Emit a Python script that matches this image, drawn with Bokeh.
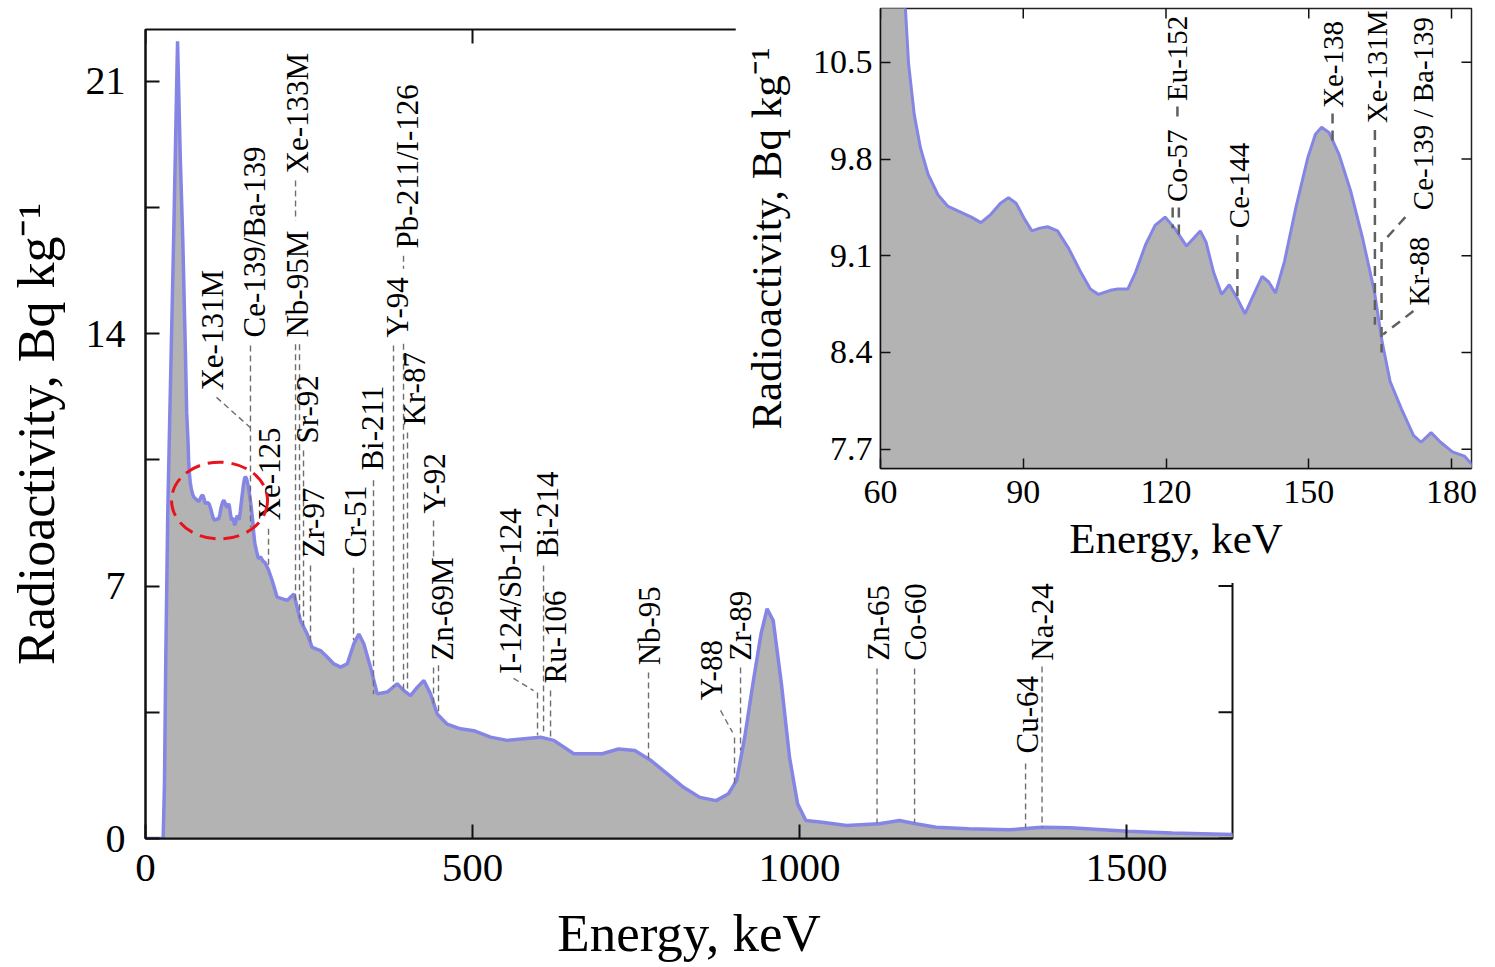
from math import pi
from bokeh.plotting import figure
from bokeh.models import Range1d, FixedTicker, PrintfTickFormatter, ColumnDataSource
from bokeh.layouts import column
from bokeh.embed import file_html
from bokeh.resources import INLINE
from bokeh.core.properties import value

FONT = "Liberation Serif"

# ---------------- data ----------------
energy_kev = [
    0, 27, 29, 31, 34, 37, 43, 49, 53, 57, 61, 63,
    65.1, 65.9, 67.1, 68.4, 70.0, 72.1, 74.1, 76.6, 79.1, 81.1, 83.2, 85.2, 86.9, 88.5,
    90.2, 91.8, 93.5, 95.1, 97.2, 99.6, 102.1, 104.1, 105.8, 108.3, 109.9, 112.0, 113.6,
    115.7, 117.7, 119.8, 121.8, 124.3, 125.9, 127.2, 128.4, 130.0, 131.7, 133.3, 135.0,
    136.6, 138.3, 140.2, 141.6, 143.0, 144.9, 147.3, 149.8, 151.4, 152.7, 154.3, 156.4,
    158.8, 161.3, 163.8, 165.4, 167.1, 169.5, 172.0, 173.6, 175.7, 177.7, 180.2, 182.7, 184.3,
    188.0, 193.7, 201.3, 216.6, 226.8, 231.9, 237.0, 247.2, 254.8, 267.6, 277.8, 288.0,
    298.2, 308.4, 318.5, 326.2, 333.8, 344.0, 354.3, 369.5, 384.8, 395.0, 405.2, 415.4,
    425.6, 435.8, 446.0, 461.3, 481.6, 502.0, 527.5, 553.0, 604.0, 624.3, 654.9, 680.4,
    698.3, 723.2, 748.1, 773.0, 797.8, 822.7, 847.6, 872.6, 891.4, 903.8, 916.2, 928.7,
    941.1, 950.4, 959.8, 972.3, 984.7, 997.1, 1009.6, 1034.6, 1071.9, 1121.7, 1152.8,
    1177.6, 1208.8, 1258.5, 1320.9, 1370.5, 1414.2, 1501.5, 1569.8, 1663,
]
activity_bq_kg = [
    0, 0, 1.5, 5.0, 9.0, 11.6, 16.6, 22.1, 19.0, 16.6, 13.5, 11.8,
    10.97, 10.49, 10.12, 9.88, 9.69, 9.54, 9.46, 9.42, 9.38, 9.34, 9.40, 9.48, 9.52, 9.48,
    9.37, 9.28, 9.30, 9.31, 9.28, 9.15, 8.98, 8.86, 8.82, 8.85, 8.86, 8.86, 8.98,
    9.18, 9.32, 9.38, 9.30, 9.17, 9.23, 9.28, 9.20, 8.98, 8.82, 8.89, 8.79,
    8.68, 8.81, 8.95, 8.91, 8.83, 9.06, 9.45, 9.81, 9.98, 10.03, 9.99, 9.83,
    9.57, 9.23, 8.84, 8.48, 8.19, 7.99, 7.80, 7.75, 7.82, 7.75, 7.68, 7.65, 7.59,
    7.45, 7.15, 6.69, 6.60, 6.78, 6.41, 6.04, 5.67, 5.30, 5.21, 5.03, 4.84,
    4.75, 4.84, 5.40, 5.67, 5.40, 4.75, 4.01, 4.06, 4.29, 4.10, 3.96, 4.19,
    4.38, 4.01, 3.45, 3.17, 3.04, 2.99, 2.81, 2.72, 2.81, 2.72, 2.35, 2.35,
    2.35, 2.48, 2.44, 2.16, 1.79, 1.42, 1.14, 1.05, 1.24, 1.61, 2.81, 4.29,
    5.67, 6.37, 6.04, 4.29, 2.25, 0.96, 0.50, 0.45, 0.36, 0.41, 0.50,
    0.41, 0.31, 0.27, 0.24, 0.31, 0.30, 0.20, 0.15, 0.11,
]
assert len(energy_kev) == len(activity_bq_kg)

main_nuclides = ["Xe-131M", "Ce-139/Ba-139", "Xe-125", "Xe-133M", "Nb-95M", "Sr-92", "Zr-97",
                 "Cr-51", "Bi-211", "Y-94", "Pb-211/I-126", "Kr-87", "Y-92", "Zn-69M",
                 "I-124/Sb-124", "Bi-214", "Ru-106", "Nb-95", "Y-88", "Zr-89", "Zn-65",
                 "Co-60", "Cu-64", "Na-24"]
inset_nuclides = ["Co-57", "Eu-152", "Ce-144", "Xe-138", "Xe-131M", "Ce-139 / Ba-139", "Kr-88"]

x_ticks_main = [0, 500, 1000, 1500]
y_ticks_main = [0, 7, 14, 21]
y_minor_main = [3.5, 10.5, 17.5]
x_ticks_inset = [60, 90, 120, 150, 180]
y_ticks_inset = [7.7, 8.4, 9.1, 9.8, 10.5]

MAIN_X = (0, 1662)
MAIN_Y = (0, 22.43)
INSET_X = (60, 184.2)
INSET_Y = (7.56, 10.89)

# ---------------- label placement (layout only) ----------------
main_layout = {
    "Xe-131M": ((102.4, 12.42), [(108.6, 12.23, 160.5, 11.39)]),
    "Ce-139/Ba-139": ((166.0, 13.89), [(160.5, 13.67, 160.5, 8.62)]),
    "Xe-125": ((189.6, 8.82), [(188.1, 8.59, 188.1, 7.54)]),
    "Xe-133M": ((232.4, 18.44), [(229.4, 18.24, 229.4, 17.13), (229.4, 13.7, 229.4, 6.5)]),
    "Nb-95M": ((232.4, 13.89), [(235.5, 13.7, 235.5, 6.1)]),
    "Sr-92": ((247.7, 10.95), [(241.6, 10.76, 241.6, 5.9)]),
    "Zr-97": ((256.9, 7.79), [(252.3, 7.57, 252.3, 5.4)]),
    "Cr-51": ((321.1, 7.79), [(318.1, 7.51, 318.1, 5.5)]),
    "Bi-211": ((347.1, 10.20), [(348.6, 9.93, 348.6, 4.0)]),
    "Y-94": ((385.3, 13.89), [(379.2, 13.67, 379.2, 4.2)]),
    "Pb-211/I-126": ((400.6, 16.36), [(394.5, 16.16, 394.5, 15.8), (394.5, 13.72, 394.5, 4.1)]),
    "Kr-87": ((411.3, 11.45), [(400.6, 11.26, 400.6, 4.05)]),
    "Y-92": ((441.9, 9.01), [(440.4, 8.82, 440.4, 7.76), (448.0, 4.8, 448.0, 3.5)]),
    "Zn-69M": ((454.1, 4.93), [(440.4, 4.74, 440.4, 3.69)]),
    "I-124/Sb-124": ((558.1, 4.57), [(562.7, 4.44, 593.3, 4.10), (599.4, 4.05, 599.4, 2.86)]),
    "Bi-214": ((614.7, 7.79), [(608.6, 7.57, 608.6, 2.86)]),
    "Ru-106": ((626.9, 4.30), [(619.3, 4.10, 619.3, 2.80)]),
    "Nb-95": ((770.7, 4.80), [(769.1, 4.60, 769.1, 2.16)]),
    "Y-88": ((865.5, 3.83), [(879.2, 3.55, 897.6, 2.94), (900.6, 2.80, 900.6, 1.52)]),
    "Zr-89": ((909.8, 4.93), [(909.8, 4.74, 909.8, 2.44)]),
    "Zn-65": ((1120.8, 4.93), [(1118.5, 4.71, 1118.5, 0.42)]),
    "Co-60": ((1177.4, 4.93), [(1175.9, 4.71, 1175.9, 0.44)]),
    "Cu-64": ((1348.7, 2.36), [(1345.6, 2.08, 1345.6, 0.30)]),
    "Na-24": ((1370.8, 4.93), [(1370.8, 4.77, 1370.8, 0.30)]),
}
inset_layout = {
    "Co-57": ((122.4, 9.49), [(121.4, 9.45, 121.4, 9.30)]),
    "Eu-152": ((122.4, 10.22), [(122.4, 10.18, 122.4, 10.09), (122.7, 9.45, 122.7, 9.25)]),
    "Ce-144": ((135.3, 9.30), [(135.0, 9.25, 135.0, 8.78)]),
    "Xe-138": ((155.1, 10.17), [(155.0, 10.13, 155.0, 9.91)]),
    "Xe-131M": ((164.3, 10.06), [(163.9, 10.01, 163.9, 8.60)]),
    "Ce-139 / Ba-139": ((174.0, 9.43), [(170.3, 9.38, 165.6, 9.20), (165.3, 9.20, 165.3, 8.40)]),
    "Kr-88": ((173.2, 8.74), [(172.0, 8.70, 165.6, 8.53)]),
}


def build(names, layout):
    tx, ty, x0, y0, x1, y1 = [], [], [], [], [], []
    for n in names:
        (ax, ay), segs = layout[n]
        tx.append(ax)
        ty.append(ay)
        for s in segs:
            x0.append(s[0]); y0.append(s[1]); x1.append(s[2]); y1.append(s[3])
    return (ColumnDataSource(dict(x=tx, y=ty, t=list(names))),
            ColumnDataSource(dict(x0=x0, y0=y0, x1=x1, y1=y1)))


def style_axis(ax, font_px, tick_len, lw, standoff, label_px, label_standoff):
    ax.axis_line_color = "#111111"
    ax.axis_line_width = lw
    ax.major_tick_line_color = "#111111"
    ax.major_tick_line_width = lw
    ax.minor_tick_line_color = "#111111"
    ax.minor_tick_line_width = lw
    ax.major_tick_in = tick_len
    ax.major_tick_out = 0
    ax.minor_tick_in = tick_len
    ax.minor_tick_out = 0
    ax.major_label_text_font = FONT
    ax.major_label_text_color = "black"
    ax.major_label_text_font_size = f"{font_px}px"
    ax.major_label_standoff = standoff
    ax.axis_label_text_font = FONT
    ax.axis_label_text_font_style = "normal"
    ax.axis_label_text_color = "black"
    ax.axis_label_text_font_size = f"{label_px}px"
    ax.axis_label_standoff = label_standoff


def mirror_ticks(fig, xticks, yticks, xr, yr, tick_len, lw):
    # inward tick marks on the top and right frame edges (half of each dash is clipped)
    fig.scatter(x=xticks, y=[yr[1]] * len(xticks), marker="dash", angle=pi / 2,
                size=2 * tick_len, line_color="#111111", line_width=lw)
    fig.scatter(x=[xr[1]] * len(yticks), y=yticks, marker="dash", angle=0,
                size=2 * tick_len, line_color="#111111", line_width=lw)


FILL = "#b3b3b3"
LINE = "#8585e6"

# ---------------- main figure ----------------
p = figure(width=1248, height=967, x_range=Range1d(*MAIN_X), y_range=Range1d(*MAIN_Y),
           output_backend="svg", toolbar_location=None,
           min_border_left=145, min_border_right=16, min_border_top=29, min_border_bottom=129,
           x_axis_label="Energy, keV", y_axis_label="Radioactivity, Bq kg\u207b\u00b9",
           background_fill_color="white", border_fill_color="white")
p.xgrid.visible = False
p.ygrid.visible = False
p.outline_line_color = "#111111"
p.outline_line_width = 2

p.below[0].ticker = FixedTicker(ticks=x_ticks_main)
p.left[0].ticker = FixedTicker(ticks=y_ticks_main, minor_ticks=y_minor_main)
style_axis(p.below[0], 41, 14, 2, 16, 53, 20)
style_axis(p.left[0], 40, 14, 2, 20, 52, 18)

spec = ColumnDataSource(dict(e=energy_kev, a=activity_bq_kg, z=[0] * len(energy_kev)))
p.varea(x="e", y1="z", y2="a", source=spec, fill_color=FILL)
p.line(x="e", y="a", source=spec, line_color=LINE, line_width=3.5)
mirror_ticks(p, x_ticks_main, y_ticks_main + y_minor_main, MAIN_X, MAIN_Y, 14, 2)

mtext, mseg = build(main_nuclides, main_layout)
p.segment(x0="x0", y0="y0", x1="x1", y1="y1", source=mseg, line_color="#6e6e6e",
          line_width=1.4, line_dash="6 4")
p.text(x="x", y="y", text="t", source=mtext, angle=pi / 2, text_font=value(FONT),
       text_font_size="31px", text_align="left", text_baseline="middle", text_color="black")
p.ellipse(x=[113.2], y=[9.37], width=[146.8], height=[2.13], fill_color=None,
          line_color="#e8141c", line_width=3, line_dash="16 8")

# ---------------- inset figure ----------------
q = figure(width=752, height=583, x_range=Range1d(*INSET_X), y_range=Range1d(*INSET_Y),
           output_backend="svg", toolbar_location=None,
           min_border_left=138, min_border_right=12, min_border_top=8, min_border_bottom=115,
           x_axis_label="Energy, keV", y_axis_label="Radioactivity, Bq kg\u207b\u00b9",
           background_fill_color="white", border_fill_color="white")
q.xgrid.visible = False
q.ygrid.visible = False
q.outline_line_color = "#222222"
q.outline_line_width = 1.5
q.below[0].ticker = FixedTicker(ticks=x_ticks_inset)
q.left[0].ticker = FixedTicker(ticks=y_ticks_inset)
q.left[0].formatter = PrintfTickFormatter(format="%.1f")
style_axis(q.below[0], 34, 10, 1.5, 12, 43, 9)
style_axis(q.left[0], 34, 10, 1.5, 8, 43, 20)

q.varea(x="e", y1="z", y2="a", source=spec, fill_color=FILL)
q.line(x="e", y="a", source=spec, line_color=LINE, line_width=3)
mirror_ticks(q, x_ticks_inset, y_ticks_inset, INSET_X, INSET_Y, 10, 1.5)
itext, iseg = build(inset_nuclides, inset_layout)
q.segment(x0="x0", y0="y0", x1="x1", y1="y1", source=iseg, line_color="#606060",
          line_width=2.5, line_dash="10 7")
q.text(x="x", y="y", text="t", source=itext, angle=pi / 2, text_font=value(FONT),
       text_font_size="29px", text_align="left", text_baseline="middle", text_color="black")

q.styles = {"position": "absolute", "left": "735px", "top": "0px", "z-index": "2"}
layout = column(p, q, styles={"position": "relative"})

open("out.html", "w").write(file_html(layout, INLINE))
